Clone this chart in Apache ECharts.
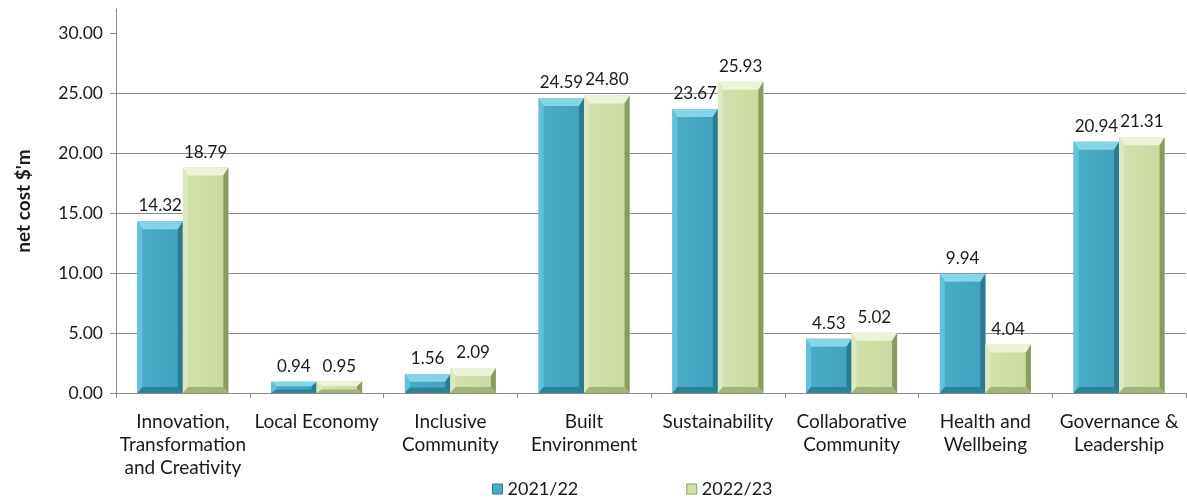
<!DOCTYPE html>
<html>
<head>
<meta charset="utf-8">
<script src="https://cdn.jsdelivr.net/npm/echarts@6/dist/echarts.min.js"></script>
<style>
  html, body { margin: 0; padding: 0; background: #fff; }
  #chart { width: 1187px; height: 500px; }
</style>
</head>
<body>
<div id="chart"></div>
<script>
// Net cost by priority area, $'m
const categories = [
  'Innovation,\nTransformation\nand Creativity',
  'Local Economy',
  'Inclusive\nCommunity',
  'Built\nEnvironment',
  'Sustainability',
  'Collaborative\nCommunity',
  'Health and\nWellbeing',
  'Governance &\nLeadership'
];
const seriesNames = ['2021/22', '2022/23'];
const values2122 = [14.32, 0.94, 1.56, 24.59, 23.67, 4.53, 9.94, 20.94];
const values2223 = [18.79, 0.95, 2.09, 24.80, 25.93, 5.02, 4.04, 21.31];
const yTicks = [0, 5, 10, 15, 20, 25, 30];

const FONT = 'Lato, "Open Sans", sans-serif';

// Bevelled bar palettes: face, top, left, right, bottom
const palettes = [
  { face: '#4aadc7', faceDark: '#40a2bc', top: '#84d5ea', left: '#62c0d8', right: '#2a7a90', bottom: '#2f8198' },
  { face: '#d3e2ad', faceDark: '#c9da9f', top: '#ecf3d6', left: '#dde9c0', right: '#8a9b62', bottom: '#a3b47a' }
];

function makeRenderer(seriesIdx) {
  return function (params, api) {
    const cat = api.value(0);
    const val = api.value(1);
    const base = api.coord([cat, 0]);
    const top = api.coord([cat, val]);
    const band = api.size([1, 0])[0];
    const barW = band * 0.34;
    const x0 = base[0] + (seriesIdx === 0 ? -barW : 0);
    const x1 = x0 + barW;
    const yB = base[1];
    const yT = top[1];
    const h = yB - yT;
    const p = palettes[seriesIdx];
    const bt = Math.min(8, h * 0.4);
    const bb = Math.min(6, h * 0.3);
    const bs = Math.min(5, barW * 0.15);
    const children = [
      { type: 'rect', shape: { x: x0, y: yT, width: barW, height: h },
        style: { fill: new echarts.graphic.LinearGradient(0, 0, 1, 0, [
          { offset: 0, color: p.face }, { offset: 1, color: p.faceDark }]) } },
      // top bevel
      { type: 'polygon', shape: { points: [[x0, yT], [x1, yT], [x1 - bs, yT + bt], [x0 + bs, yT + bt]] },
        style: { fill: p.top } },
      // left bevel
      { type: 'polygon', shape: { points: [[x0, yT], [x0 + bs, yT + bt], [x0 + bs, yB - bb], [x0, yB]] },
        style: { fill: p.left } },
      // right bevel
      { type: 'polygon', shape: { points: [[x1, yT], [x1, yB], [x1 - bs, yB - bb], [x1 - bs, yT + bt]] },
        style: { fill: p.right } },
      // bottom bevel
      { type: 'polygon', shape: { points: [[x0, yB], [x0 + bs, yB - bb], [x1 - bs, yB - bb], [x1, yB]] },
        style: { fill: p.bottom } },
      // value label
      { type: 'text', x: (x0 + x1) / 2, y: yT - 7,
        style: { text: val.toFixed(2), fill: '#1a1a1a', font: '17px ' + FONT,
          align: 'center', verticalAlign: 'bottom' } }
    ];
    return { type: 'group', children: children };
  };
}

function toData(arr) {
  return arr.map((v, i) => [i, v]);
}

const chart = echarts.init(document.getElementById('chart'), null, { renderer: 'canvas' });
chart.setOption({
  animation: false,
  backgroundColor: '#ffffff',
  grid: { left: 116, right: 1, top: 9, bottom: 107, containLabel: false },
  legend: {
    top: 478,
    left: 487,
    itemGap: 108,
    itemWidth: 10,
    itemHeight: 10,
    icon: 'rect',
    padding: [2, 5],
    textStyle: { fontFamily: FONT, fontSize: 18, color: '#1a1a1a' },
    data: [
      { name: seriesNames[0], itemStyle: { color: palettes[0].face, borderColor: palettes[0].right, borderWidth: 1 } },
      { name: seriesNames[1], itemStyle: { color: palettes[1].face, borderColor: palettes[1].right, borderWidth: 1 } }
    ]
  },
  xAxis: {
    type: 'category',
    data: categories,
    boundaryGap: true,
    axisLine: { lineStyle: { color: '#8c8c8c', width: 1 } },
    axisTick: { show: true, alignWithLabel: false, length: 5, lineStyle: { color: '#8c8c8c' } },
    axisLabel: {
      interval: 0, margin: 17, color: '#1a1a1a',
      fontFamily: FONT, fontSize: 19, lineHeight: 23
    }
  },
  yAxis: {
    type: 'value',
    min: 0,
    max: 32,
    interval: 5,
    name: "net cost $'m",
    nameLocation: 'middle',
    nameGap: 83,
    nameTextStyle: { fontFamily: FONT, fontSize: 19, fontWeight: 'bold', color: '#1a1a1a' },
    axisLine: { show: true, lineStyle: { color: '#8c8c8c', width: 1 } },
    axisTick: { show: true, length: 6, customValues: yTicks, lineStyle: { color: '#8c8c8c' } },
    axisLabel: {
      customValues: yTicks,
      margin: 13, color: '#1a1a1a', fontFamily: FONT, fontSize: 17.5,
      formatter: v => v.toFixed(2)
    },
    splitLine: { show: true, showMaxLine: false, lineStyle: { color: '#8c8c8c', width: 1 } }
  },
  series: [
    { name: seriesNames[0], type: 'custom', renderItem: makeRenderer(0),
      itemStyle: { color: palettes[0].face },
      encode: { x: 0, y: 1 }, data: toData(values2122) },
    { name: seriesNames[1], type: 'custom', renderItem: makeRenderer(1),
      itemStyle: { color: palettes[1].face },
      encode: { x: 0, y: 1 }, data: toData(values2223) }
  ]
});
</script>
</body>
</html>
